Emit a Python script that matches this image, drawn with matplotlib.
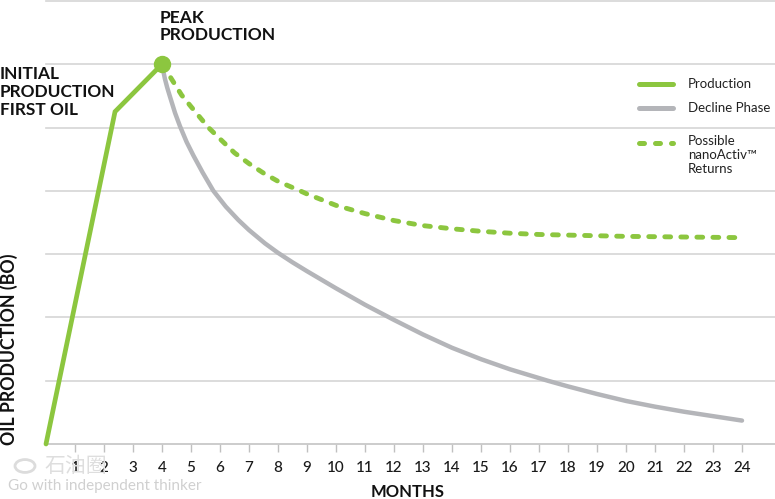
import matplotlib
matplotlib.use("Agg")
import matplotlib.pyplot as plt
from matplotlib.lines import Line2D
from matplotlib.patches import Circle

# ---- data ----
months_ticks = list(range(1, 25))
tick_labels = [str(m) for m in months_ticks]

prod_x = [0, 2.38, 4.0]
prod_y = [0, 5.25, 6.0]

decline_x = [4.0, 4.05, 4.1, 4.18, 4.28, 4.45, 4.62, 4.85, 5.08, 5.4, 5.77, 6.2, 6.63, 7.0,
             7.55, 8.0, 8.5, 9.0, 10.0, 11.0, 12.0, 13.0, 14.0, 15.0, 16.0, 17.3, 18.0,
             19.0, 20.0, 21.0, 22.0, 23.0, 24.0]
decline_y = [6.0, 5.88, 5.77, 5.63, 5.48, 5.23, 5.02, 4.77, 4.56, 4.29, 4.0, 3.75, 3.54, 3.38,
             3.17, 3.02, 2.87, 2.73, 2.46, 2.2, 1.96, 1.73, 1.52, 1.34, 1.18, 1.0, 0.91,
             0.79, 0.68, 0.59, 0.51, 0.44, 0.37]

returns_x = [4.0, 4.2, 4.68, 5.0, 5.6, 6.0, 6.5, 7.0, 7.5, 8.0, 8.76, 9.0, 10.0, 11.0,
             12.0, 13.0, 14.0, 15.0, 16.0, 17.0, 18.0, 20.0, 22.0, 24.0]
returns_y = [6.0, 5.86, 5.51, 5.33, 5.0, 4.82, 4.6, 4.43, 4.28, 4.15, 4.0, 3.95, 3.77, 3.64,
             3.53, 3.45, 3.40, 3.36, 3.33, 3.31, 3.30, 3.28, 3.27, 3.26]

peak_x = [4.0]
peak_y = [6.0]

GREEN = "#8cc63f"
GRAY = "#b4b5b9"
GRID = "#d5d5d5"
FONT = "Lato"

fig = plt.figure(figsize=(7.75, 4.99), dpi=100)
W, H = 775, 499
ax = fig.add_axes([46 / W, (H - 444) / H, (W - 46) / W, 444 / H])
ax.set_xlim(0, (W - 46) / 29.0)
ax.set_ylim(0, 444 / 63.3)

for s in ["top", "right", "left"]:
    ax.spines[s].set_visible(False)
ax.spines["bottom"].set_color("#c8c8c8")
ax.spines["bottom"].set_linewidth(1.3)

for g in range(1, 8):
    ax.axhline(g, color=GRID, lw=1.2, zorder=0, clip_on=False)

ax.set_yticks([])
ax.set_xticks(months_ticks)
ax.set_xticklabels(tick_labels, fontsize=11, fontfamily=FONT, fontweight="medium",
                   color="#1a1a1a")
ax.tick_params(axis="x", direction="out", length=6, width=1.0, color="#c0c0c0", pad=6)

ax.plot(decline_x, decline_y, color=GRAY, lw=3.2, solid_capstyle="round",
        solid_joinstyle="round", zorder=2)
ax.plot(returns_x, returns_y, color=GREEN, lw=3.5, dashes=(1.2, 2.1),
        dash_capstyle="round", zorder=3)
ax.plot(prod_x, prod_y, color=GREEN, lw=3.4, solid_capstyle="round",
        solid_joinstyle="miter", zorder=4, clip_on=False)
ax.plot(peak_x, peak_y, "o", color=GREEN, markersize=11.5, zorder=5, clip_on=False)

# annotations
fig.text(160 / W, 1 - 10 / H, "PEAK\nPRODUCTION", ha="left", va="top", fontsize=12.5,
         fontweight="bold", fontfamily=FONT, color="#111111", linespacing=1.1)
fig.text(0 / W, 1 - 66 / H, "INITIAL\nPRODUCTION\nFIRST OIL", ha="left", va="top",
         fontsize=12.4, fontweight="bold", fontfamily=FONT, color="#111111", linespacing=1.14)
fig.text(9 / W, 1 - 349 / H, "OIL PRODUCTION (BO)", rotation=90, ha="center", va="center",
         fontsize=12.8, fontweight="bold", fontfamily=FONT, color="#111111")
fig.text(408 / W, 1 - 492 / H, "MONTHS", ha="center", va="center", fontsize=12,
         fontweight="bold", fontfamily=FONT, color="#111111")

# legend (manual)
def leg_line(y, **kw):
    fig.add_artist(Line2D([639 / W, 673 / W], [1 - y / H, 1 - y / H],
                          transform=fig.transFigure, **kw))

leg_line(84, color=GREEN, lw=3.6, solid_capstyle="round")
leg_line(108, color=GRAY, lw=3.6, solid_capstyle="round")
leg_line(143, color=GREEN, lw=3.6, dashes=(1.0, 2.2), dash_capstyle="round")
fig.text(688 / W, 1 - 84 / H, "Production", ha="left", va="center", fontsize=9.5,
         fontfamily=FONT, color="#222222")
fig.text(688 / W, 1 - 108 / H, "Decline Phase", ha="left", va="center", fontsize=9.5,
         fontfamily=FONT, color="#222222")
fig.text(688 / W, 1 - 135 / H, "Possible\nnanoActiv\u2122\nReturns", ha="left", va="top",
         fontsize=9.5, fontfamily=FONT, color="#222222", linespacing=1.2)

# watermark
fig.add_artist(Circle((25 / W, 1 - 466 / H), 10 / W, transform=fig.transFigure,
                      fill=False, ec="#dcdcdc", lw=2.0, zorder=10))
fig.text(44 / W, 1 - 466 / H, "石油圈", ha="left", va="center", fontsize=15,
         fontfamily=["Noto Sans CJK SC", "DejaVu Sans"], color="#dedede", zorder=10)
fig.text(8 / W, 1 - 486 / H, "Go with independent thinker", ha="left", va="center",
         fontsize=11, fontfamily=FONT, color="#d0d0d0", zorder=10)

fig.savefig("out.png", dpi=100)
